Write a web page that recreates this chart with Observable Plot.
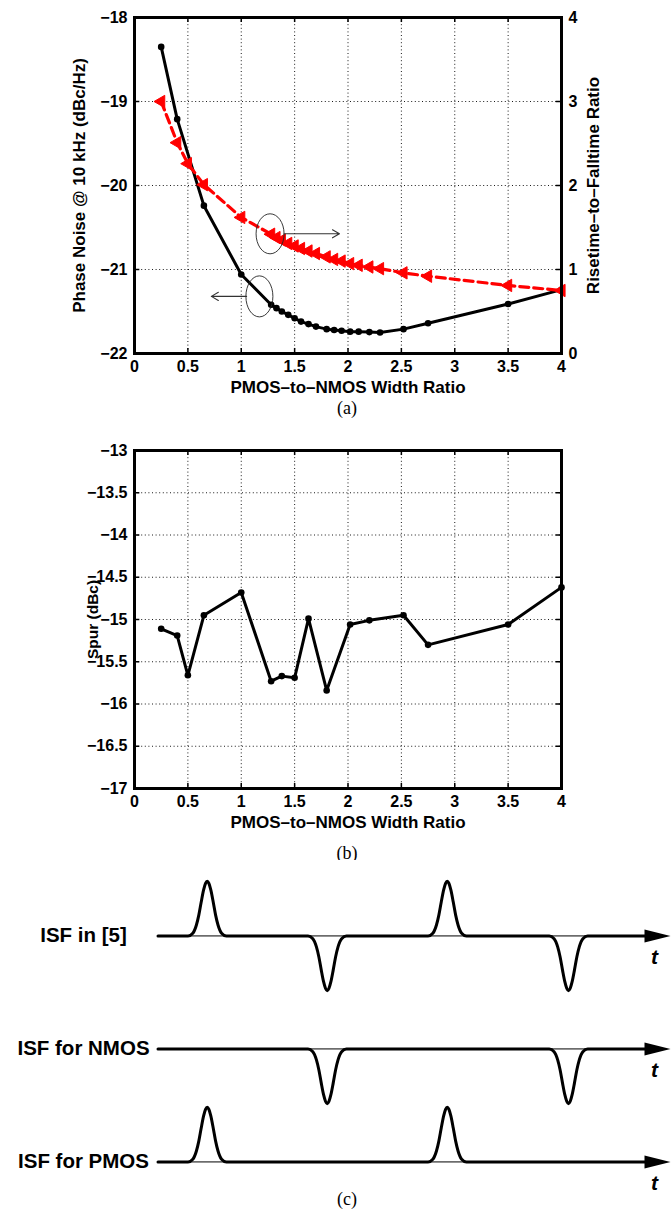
<!DOCTYPE html>
<html><head><meta charset="utf-8">
<script src="https://cdn.jsdelivr.net/npm/d3@7"></script>
<script src="https://cdn.jsdelivr.net/npm/@observablehq/plot@0.6"></script>
<style>
body{margin:0;background:#fff;overflow:hidden}
#fig{position:relative;width:671px;height:1209px;background:#fff}
.panel{position:absolute;left:0}
.cap{position:absolute;left:297px;width:100px;text-align:center;font-family:"Liberation Serif","Times New Roman",serif;font-size:18px;line-height:18px;height:18px;color:#000}
</style></head><body>
<div id="fig">
<div class="panel" id="pa" style="top:0"></div>
<div class="cap" style="top:399px">(a)</div>
<div class="panel" id="pb" style="top:420px"></div>
<div class="cap" style="top:844px">(b)</div>
<div class="panel" id="pc" style="top:860px"></div>
<div class="cap" style="top:1190px">(c)</div>
</div>
<script>
// ---------- data: panel (a) ----------
const widthRatioPN = [0.25,0.4,0.65,1.0,1.28,1.33,1.38,1.44,1.5,1.56,1.63,1.7,1.8,1.87,1.94,2.02,2.1,2.2,2.3,2.52,2.75,3.5,4.0];
const phaseNoise   = [-18.35,-19.21,-20.24,-21.06,-21.42,-21.46,-21.5,-21.54,-21.58,-21.62,-21.65,-21.68,-21.71,-21.72,-21.73,-21.74,-21.74,-21.745,-21.75,-21.71,-21.64,-21.41,-21.24];
const widthRatioRF = [0.25,0.4,0.5,0.65,1.0,1.28,1.33,1.38,1.44,1.5,1.56,1.63,1.7,1.8,1.87,1.94,2.02,2.1,2.2,2.3,2.52,2.75,3.5,4.0];
const riseFallRatio= [3.0,2.51,2.26,2.01,1.62,1.42,1.38,1.35,1.31,1.28,1.25,1.22,1.19,1.15,1.12,1.10,1.07,1.05,1.03,1.01,0.96,0.92,0.81,0.75];
const xTicks       = [0,0.5,1,1.5,2,2.5,3,3.5,4];
const aLeftTicks   = [-22,-21,-20,-19,-18];
const aRightTicks  = [0,1,2,3,4];
// callouts: ellipse centres (left units for black, right units for red) and arrow ends
const calloutPN = {x: 1.17, y: -21.32, rx: 13.5, ry: 20.5, arrowFrom: 1.05, arrowTo: 0.72};
const calloutRF = {x: 1.27, r: 1.425, rx: 14, ry: 20, arrowFrom: 1.40, arrowTo: 1.92};

// ---------- data: panel (b) ----------
const widthRatioSpur = [0.25,0.4,0.5,0.65,1.0,1.28,1.38,1.5,1.63,1.8,2.02,2.2,2.52,2.75,3.5,4.0];
const spur           = [-15.11,-15.19,-15.66,-14.95,-14.68,-15.73,-15.67,-15.69,-14.99,-15.84,-15.06,-15.01,-14.95,-15.30,-15.06,-14.62];
const bTicks         = [-17,-16.5,-16,-15.5,-15,-14.5,-14,-13.5,-13];

// ---------- data: panel (c) ----------
const isfRows = ["ISF in [5]", "ISF for NMOS", "ISF for PMOS"];
const peakTimes = [2.05, 12.05];     // positive pulses (PMOS)
const troughTimes = [7.05, 17.1];    // negative pulses (NMOS)
const pulseOffsets = [-0.8,-0.6,-0.45,-0.35,-0.25,-0.15,-0.07,0,0.07,0.15,0.25,0.35,0.45,0.6,0.8];
const pulseHeights = [0,0.05,0.2,0.38,0.62,0.84,0.96,1,0.96,0.84,0.62,0.38,0.2,0.05,0];
const timeEnd = 21.35;

// ---------- helpers ----------
const FONT = '"Liberation Sans", Arial, Helvetica, sans-serif';
const fmt = d => (d < 0 ? "\u2212" : "") + String(Math.abs(d));
const leftDomain = [-22, -18], rightDomain = [0, 4];
const k = (leftDomain[1]-leftDomain[0])/(rightDomain[1]-rightDomain[0]);
const toLeft = r => leftDomain[0] + (r - rightDomain[0]) * k;
const fromLeft = y => rightDomain[0] + (y - leftDomain[0]) / k;
function ellipseSymbol(rx, ry) {
  const c = 0.5523;
  return {draw(ctx) {
    ctx.moveTo(rx, 0);
    ctx.bezierCurveTo(rx, ry*c, rx*c, ry, 0, ry);
    ctx.bezierCurveTo(-rx*c, ry, -rx, ry*c, -rx, 0);
    ctx.bezierCurveTo(-rx, -ry*c, -rx*c, -ry, 0, -ry);
    ctx.bezierCurveTo(rx*c, -ry, rx, -ry*c, rx, 0);
    ctx.closePath();
  }};
}
const arrowHead = {draw(ctx) { ctx.moveTo(0,0); ctx.lineTo(-26,-6.5); ctx.lineTo(-26,6.5); ctx.closePath(); }};
const baseStyle = {fontFamily: FONT, fontSize: "16px", fontWeight: "bold", background: "white", color: "black", overflow: "visible"};
const grid = {stroke: "#000", strokeWidth: 0.9, strokeDasharray: "1,2.6"};
const TICK_FS = 16, LABEL_FS = 17;

// ---------- panel (a) ----------
const pnData = widthRatioPN.map((x, i) => ({x, y: phaseNoise[i]}));
const rfData = widthRatioRF.map((x, i) => ({x, y: toLeft(riseFallRatio[i])}));
const plotA = Plot.plot({
  width: 671, height: 400,
  marginTop: 17, marginBottom: 47, marginLeft: 134, marginRight: 110,
  style: baseStyle,
  x: {domain: [xTicks[0], xTicks[xTicks.length-1]]},
  y: {domain: leftDomain},
  marks: [
    Plot.ruleX(xTicks.slice(1, -1), grid),
    Plot.ruleY(aLeftTicks.slice(1, -1), grid),
    Plot.ruleX(xTicks, {y1: leftDomain[0], y2: leftDomain[0] + 0.06, stroke: "#000", strokeWidth: 1.5}),
    Plot.ruleX(xTicks, {y1: leftDomain[1], y2: leftDomain[1] - 0.06, stroke: "#000", strokeWidth: 1.5}),
    Plot.ruleY(aLeftTicks, {x1: 0, x2: 0.05, stroke: "#000", strokeWidth: 1.5}),
    Plot.ruleY(aLeftTicks, {x1: 4, x2: 3.95, stroke: "#000", strokeWidth: 1.5}),
    Plot.line(pnData, {x: "x", y: "y", stroke: "#000", strokeWidth: 3}),
    Plot.dot(pnData, {x: "x", y: "y", r: 3.3, fill: "#000"}),
    Plot.line(rfData, {x: "x", y: "y", stroke: "#ff0000", strokeWidth: 3.2, strokeDasharray: "9,5"}),
    Plot.dot(rfData, {x: "x", y: "y", symbol: "triangle", r: 4.6, rotate: -90, fill: "#ff0000", stroke: "#ff0000", strokeWidth: 1}),
    // callouts
    Plot.dot([calloutPN], {x: "x", y: "y", symbol: ellipseSymbol(calloutPN.rx, calloutPN.ry), stroke: "#222", strokeWidth: 0.9, fill: "none"}),
    Plot.dot([calloutRF], {x: "x", y: d => toLeft(d.r), symbol: ellipseSymbol(calloutRF.rx, calloutRF.ry), stroke: "#222", strokeWidth: 0.9, fill: "none"}),
    Plot.arrow([calloutPN], {x1: "arrowFrom", x2: "arrowTo", y1: "y", y2: "y", stroke: "#333", strokeWidth: 1.1, headLength: 11}),
    Plot.arrow([calloutRF], {x1: "arrowFrom", x2: "arrowTo", y1: d => toLeft(d.r), y2: d => toLeft(d.r), stroke: "#333", strokeWidth: 1.1, headLength: 11}),
    Plot.axisX({ticks: xTicks, tickSize: 0, tickPadding: 7, tickFormat: fmt, label: null, fontSize: TICK_FS}),
    Plot.axisY({ticks: aLeftTicks, tickSize: 0, tickPadding: 7, tickFormat: fmt, label: null, fontSize: TICK_FS}),
    Plot.axisY({anchor: "right", ticks: aRightTicks.map(toLeft), tickSize: 0, tickPadding: 7, tickFormat: d => fmt(Math.round(fromLeft(d))), label: null, fontSize: TICK_FS}),
    Plot.text(["PMOS\u2013to\u2013NMOS Width Ratio"], {frameAnchor: "bottom", dy: 39, text: d => d, fontSize: LABEL_FS, textAnchor: "middle"}),
    Plot.text(["Phase Noise @ 10 kHz (dBc/Hz)"], {frameAnchor: "left", dx: -55, rotate: -90, text: d => d, fontSize: LABEL_FS, textAnchor: "middle"}),
    Plot.text(["Risetime\u2013to\u2013Falltime Ratio"], {frameAnchor: "right", dx: 32, rotate: -90, text: d => d, fontSize: LABEL_FS, textAnchor: "middle"}),
    Plot.frame({stroke: "#000", strokeWidth: 3})
  ]
});
document.getElementById("pa").append(plotA);

// ---------- panel (b) ----------
const spurData = widthRatioSpur.map((x, i) => ({x, y: spur[i]}));
const bDomain = [bTicks[0], bTicks[bTicks.length-1]];
const plotB = Plot.plot({
  width: 671, height: 420,
  marginTop: 30, marginBottom: 52, marginLeft: 134, marginRight: 110,
  style: baseStyle,
  x: {domain: [xTicks[0], xTicks[xTicks.length-1]]},
  y: {domain: bDomain},
  marks: [
    Plot.ruleX(xTicks.slice(1, -1), grid),
    Plot.ruleY(bTicks.slice(1, -1), grid),
    Plot.ruleX(xTicks, {y1: bDomain[0], y2: bDomain[0] + 0.06, stroke: "#000", strokeWidth: 1.5}),
    Plot.ruleX(xTicks, {y1: bDomain[1], y2: bDomain[1] - 0.06, stroke: "#000", strokeWidth: 1.5}),
    Plot.ruleY(bTicks, {x1: 0, x2: 0.05, stroke: "#000", strokeWidth: 1.5}),
    Plot.ruleY(bTicks, {x1: 4, x2: 3.95, stroke: "#000", strokeWidth: 1.5}),
    Plot.line(spurData, {x: "x", y: "y", stroke: "#000", strokeWidth: 3}),
    Plot.dot(spurData, {x: "x", y: "y", r: 3.3, fill: "#000"}),
    Plot.axisX({ticks: xTicks, tickSize: 0, tickPadding: 7, tickFormat: fmt, label: null, fontSize: TICK_FS}),
    Plot.axisY({ticks: bTicks, tickSize: 0, tickPadding: 7, tickFormat: fmt, label: null, fontSize: TICK_FS}),
    Plot.text(["PMOS\u2013to\u2013NMOS Width Ratio"], {frameAnchor: "bottom", dy: 39, text: d => d, fontSize: LABEL_FS, textAnchor: "middle"}),
    Plot.text(["Spur (dBc)"], {frameAnchor: "left", dx: -41, rotate: -90, text: d => d, fontSize: 15.5, textAnchor: "middle"}),
    Plot.frame({stroke: "#000", strokeWidth: 3})
  ]
});
document.getElementById("pb").append(plotB);

// ---------- panel (c) ----------
function rowPulses(row) {
  const list = [];
  if (row !== "ISF for NMOS") peakTimes.forEach(t => list.push({t, sign: 1}));
  if (row !== "ISF for PMOS") troughTimes.forEach(t => list.push({t, sign: -1}));
  return list.sort((a, b) => a.t - b.t);
}
const isfLine = [];
isfRows.forEach(row => {
  isfLine.push({row, t: 0, v: 0});
  rowPulses(row).forEach(p => pulseOffsets.forEach((o, i) => isfLine.push({row, t: p.t + o, v: p.sign * pulseHeights[i]})));
  isfLine.push({row, t: timeEnd - 0.6, v: 0});
});
const plotC = Plot.plot({
  width: 671, height: 349,
  marginTop: 6, marginBottom: 2, marginLeft: 157.5, marginRight: 1,
  style: {...baseStyle, fontSize: "20px"},
  x: {domain: [0, timeEnd], axis: null},
  y: {domain: [-0.814, 1.25], axis: null},
  fy: {domain: isfRows, padding: 0, axis: null},
  marks: [
    Plot.ruleY(isfRows, {fy: d => d, y: 0, x1: 0, x2: timeEnd - 0.6, stroke: "#000", strokeWidth: 1}),
    Plot.line(isfLine, {fy: "row", x: "t", y: "v", z: "row", curve: "monotone-x", stroke: "#000", strokeWidth: 3}),
    Plot.dot(isfRows, {fy: d => d, x: timeEnd, y: 0, symbol: arrowHead, fill: "#000", stroke: "none"}),
    Plot.text(isfRows, {fy: d => d, frameAnchor: "left", y: 0, dx: -74.5, text: d => d, textAnchor: "middle", fontSize: 20.5}),
    Plot.text(isfRows, {fy: d => d, x: timeEnd, y: 0, dx: -16, dy: 21, text: () => "t", fontSize: 21, fontStyle: "italic"})
  ]
});
document.getElementById("pc").append(plotC);
</script>
</body></html>
